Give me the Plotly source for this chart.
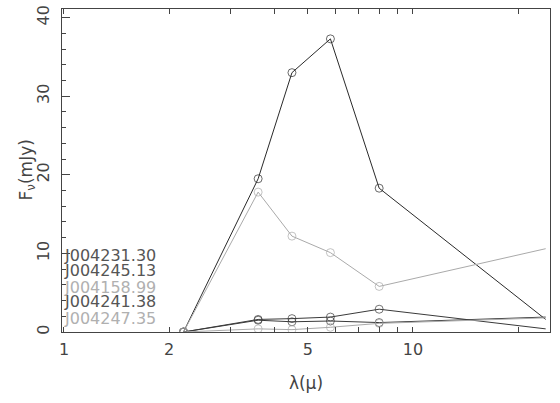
import plotly.graph_objects as go

wavelength = [2.2, 3.6, 4.5, 5.8, 8.0, 24.0]

names = ["J004231.30", "J004245.13", "J004158.99", "J004241.38", "J004247.35"]
flux_J004231_30 = [0.0, 19.5, 33.0, 37.3, 18.3, 1.6]
flux_J004245_13 = [0.0, 1.6, 1.7, 1.9, 2.9, 0.4]
flux_J004158_99 = [0.0, 17.8, 12.2, 10.1, 5.8, 10.6]
flux_J004241_38 = [0.0, 1.5, 1.3, 1.4, 1.2, 1.9]
flux_J004247_35 = [0.0, 0.4, 0.3, 0.6, 1.1, 1.8]
series = [flux_J004231_30, flux_J004245_13, flux_J004158_99, flux_J004241_38, flux_J004247_35]

line_colors = ["#2a2a2a", "#3a3a3a", "#aaaaaa", "#3a3a3a", "#aaaaaa"]
label_colors = ["#555555", "#555555", "#b0b0b0", "#555555", "#b0b0b0"]

xtick_vals = [1, 2, 5, 10]
xminor_vals = [3, 4, 6, 7, 8, 9, 20]

fig = go.Figure()
for name, ys, col in zip(names, series, line_colors):
    # the last (24 micron) point is drawn without a circle, as in the original
    sizes = [8] * (len(wavelength) - 1) + [0]
    fig.add_trace(go.Scatter(
        x=wavelength, y=ys, mode="lines+markers", name=name,
        line=dict(color=col, width=1),
        marker=dict(symbol="circle-open", size=sizes, color=col, line=dict(width=1, color=col)),
        showlegend=False,
    ))

label_ypos = [0.238, 0.189, 0.137, 0.093, 0.043]
for name, col, yp in zip(names, label_colors, label_ypos):
    fig.add_annotation(
        x=0, y=yp, xref="paper", yref="paper", text=name, showarrow=False,
        xanchor="left", yanchor="middle", xshift=0,
        font=dict(family="DejaVu Sans", size=16, color=col),
    )

fig.add_annotation(
    x=0, y=0.5, xref="paper", yref="paper", text="F<sub>ν</sub>(mJy)", showarrow=False,
    xanchor="center", yanchor="middle", xshift=-35, textangle=-90,
    font=dict(family="DejaVu Sans", size=17, color="#444444"),
)

fig.update_layout(
    width=560, height=403,
    margin=dict(l=62, r=10, t=9, b=71),
    paper_bgcolor="white", plot_bgcolor="white",
    font=dict(family="DejaVu Sans", size=16, color="#444444"),
    xaxis=dict(
        type="log", range=[-0.0057, 1.3926], automargin=False,
        tickvals=xtick_vals, ticktext=[str(v) for v in xtick_vals],
        ticks="inside", ticklen=5, tickcolor="#444444", ticklabelstandoff=3,
        showgrid=False, zeroline=False,
        showline=True, linecolor="#444444", linewidth=1, mirror="allticks",
        minor=dict(tickvals=xminor_vals, ticks="inside", ticklen=5, tickcolor="#444444", showgrid=False),
        title=dict(text="λ(μ)", font=dict(size=17, color="#444444"), standoff=18),
        tickfont=dict(size=16, color="#444444"),
    ),
    yaxis=dict(
        range=[0, 41.1], automargin=False,
        tickvals=[0, 10, 20, 30, 40],
        ticks="inside", ticklen=8, tickcolor="#444444", tickangle=-90, ticklabelstandoff=6,
        showgrid=False, zeroline=False,
        showline=True, linecolor="#444444", linewidth=1, mirror=True,
        minor=dict(dtick=2, ticks="inside", ticklen=4, tickcolor="#444444", showgrid=False),
        tickfont=dict(size=16, color="#444444"),
    ),
)

fig.write_html("out.html", config={"displayModeBar": False},
               post_script="document.body.style.margin='0';")
